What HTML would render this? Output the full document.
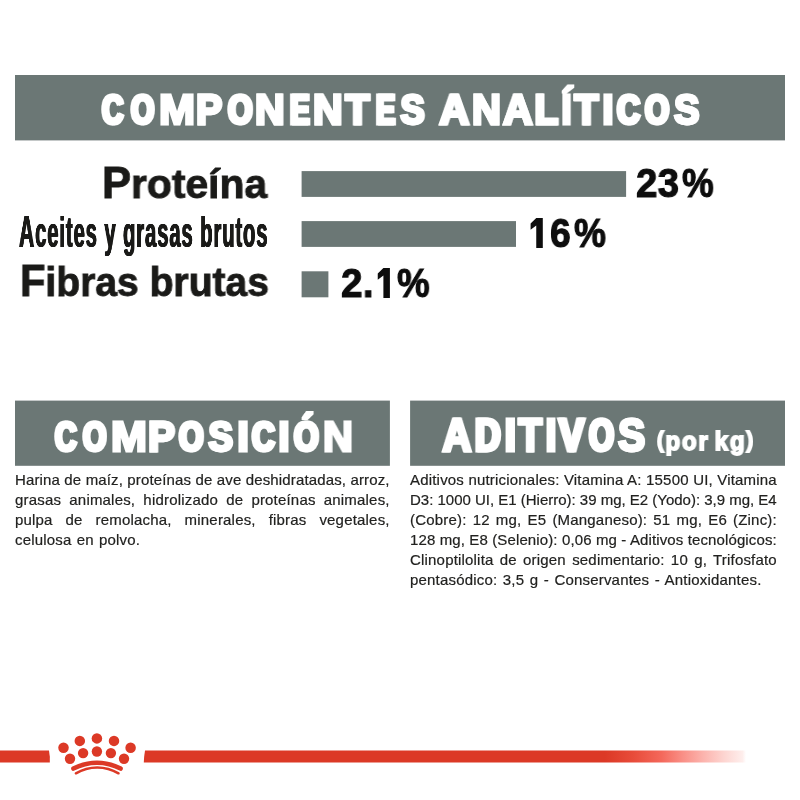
<!DOCTYPE html>
<html lang="es">
<head>
<meta charset="utf-8">
<title>Componentes analíticos</title>
<style>
  html, body { margin: 0; padding: 0; }
  body {
    width: 800px; height: 800px; background: #ffffff; position: relative; overflow: hidden;
    font-family: "Liberation Sans", sans-serif; color: #1d1d1b;
  }
  .abs { position: absolute; }
  .bar { position: absolute; background: #6b7775; }
  .hd {
    position: absolute; white-space: nowrap; color: #ffffff; font-weight: bold;
    font-size: 42.8px; line-height: 42.8px; transform-origin: 0 0; will-change: transform;
    -webkit-text-stroke: 2.8px #ffffff; letter-spacing: 1.8px; paint-order: stroke fill;
  }
  .lbl {
    position: absolute; white-space: nowrap; color: #1a1a18; font-weight: bold;
    font-size: 43.3px; line-height: 43.3px; transform-origin: 0 0; will-change: transform;
  }
  .cap { font-size: 45.2px; line-height: 0; }
  .val { font-size: 41px; line-height: 41px; color:#0d0d0d; -webkit-text-stroke: 1.1px #0d0d0d; letter-spacing: 0.5px; }
  .body {
    position: absolute; color: #222220; font-size: 15px; line-height: 20.1px; -webkit-text-stroke: 0.2px #222220;
    will-change: transform;
  }
  .body div { white-space: nowrap; height: 20.1px; }
</style>
</head>
<body>

<!-- header -->
<svg class="abs" style="left:0; top:0;" width="800" height="480" viewBox="0 0 800 480">
  <g fill="#6b7775">
    <rect x="15" y="75" width="770" height="65.4"/>
    <rect x="301.6" y="171.1" width="324.5" height="25.8"/>
    <rect x="301.6" y="221.1" width="214.4" height="25.8"/>
    <rect x="301.6" y="271.3" width="26.8" height="26"/>
    <rect x="15" y="400.6" width="374.9" height="65.2"/>
    <rect x="410.1" y="400.6" width="374.9" height="65.2"/>
  </g>
</svg>

<!-- HDR-START -->
<div class="hd" style="left:101.08px; top:87.8px; transform:scaleX(0.6893);">C</div>
<div class="hd" style="left:103.34px; top:87.8px; transform:scaleX(0.6893);">C</div>
<div class="hd" style="left:129.88px; top:87.8px; transform:scaleX(0.6964);">O</div>
<div class="hd" style="left:132.07px; top:87.8px; transform:scaleX(0.6964);">O</div>
<div class="hd" style="left:158.63px; top:87.8px; transform:scaleX(1.0107);">M</div>
<div class="hd" style="left:195.82px; top:87.8px; transform:scaleX(0.9176);">P</div>
<div class="hd" style="left:196.35px; top:87.8px; transform:scaleX(0.9176);">P</div>
<div class="hd" style="left:226.82px; top:87.8px; transform:scaleX(0.7346);">O</div>
<div class="hd" style="left:228.66px; top:87.8px; transform:scaleX(0.7346);">O</div>
<div class="hd" style="left:255.07px; top:87.8px; transform:scaleX(0.9531);">N</div>
<div class="hd" style="left:255.28px; top:87.8px; transform:scaleX(0.9531);">N</div>
<div class="hd" style="left:288.77px; top:87.8px; transform:scaleX(0.6852);">E</div>
<div class="hd" style="left:291.34px; top:87.8px; transform:scaleX(0.6852);">E</div>
<div class="hd" style="left:313.17px; top:87.8px; transform:scaleX(0.9531);">N</div>
<div class="hd" style="left:313.38px; top:87.8px; transform:scaleX(0.9531);">N</div>
<div class="hd" style="left:345.32px; top:87.8px; transform:scaleX(0.9167);">T</div>
<div class="hd" style="left:345.85px; top:87.8px; transform:scaleX(0.9167);">T</div>
<div class="hd" style="left:374.60px; top:87.8px; transform:scaleX(0.6685);">E</div>
<div class="hd" style="left:377.31px; top:87.8px; transform:scaleX(0.6685);">E</div>
<div class="hd" style="left:400.32px; top:87.8px; transform:scaleX(0.8440);">S</div>
<div class="hd" style="left:401.16px; top:87.8px; transform:scaleX(0.8440);">S</div>
<div class="hd" style="left:439.47px; top:87.8px; transform:scaleX(0.9557);">A</div>
<div class="hd" style="left:439.66px; top:87.8px; transform:scaleX(0.9557);">A</div>
<div class="hd" style="left:471.70px; top:87.8px; transform:scaleX(0.9323);">N</div>
<div class="hd" style="left:472.10px; top:87.8px; transform:scaleX(0.9323);">N</div>
<div class="hd" style="left:502.62px; top:87.8px; transform:scaleX(0.9536);">A</div>
<div class="hd" style="left:502.82px; top:87.8px; transform:scaleX(0.9536);">A</div>
<div class="hd" style="left:534.24px; top:87.8px; transform:scaleX(0.9060);">L</div>
<div class="hd" style="left:534.87px; top:87.8px; transform:scaleX(0.9060);">L</div>
<div class="hd" style="left:561.16px; top:87.8px; transform:scaleX(0.9278);">Í</div>
<div class="hd" style="left:574.21px; top:87.8px; transform:scaleX(0.9115);">T</div>
<div class="hd" style="left:574.79px; top:87.8px; transform:scaleX(0.9115);">T</div>
<div class="hd" style="left:601.63px; top:87.8px; transform:scaleX(0.9778);">I</div>
<div class="hd" style="left:616.41px; top:87.8px; transform:scaleX(0.7438);">C</div>
<div class="hd" style="left:618.17px; top:87.8px; transform:scaleX(0.7438);">C</div>
<div class="hd" style="left:644.02px; top:87.8px; transform:scaleX(0.7219);">O</div>
<div class="hd" style="left:645.98px; top:87.8px; transform:scaleX(0.7219);">O</div>
<div class="hd" style="left:673.85px; top:87.8px; transform:scaleX(0.8951);">S</div>
<div class="hd" style="left:674.21px; top:87.8px; transform:scaleX(0.8951);">S</div>
<div class="hd" style="left:53.58px; top:414.7px; transform:scaleX(0.6961);">C</div>
<div class="hd" style="left:55.77px; top:414.7px; transform:scaleX(0.6961);">C</div>
<div class="hd" style="left:82.02px; top:414.7px; transform:scaleX(0.7006);">O</div>
<div class="hd" style="left:84.18px; top:414.7px; transform:scaleX(0.7006);">O</div>
<div class="hd" style="left:111.29px; top:414.7px; transform:scaleX(1.0076);">M</div>
<div class="hd" style="left:147.98px; top:414.7px; transform:scaleX(0.9451);">P</div>
<div class="hd" style="left:148.27px; top:414.7px; transform:scaleX(0.9451);">P</div>
<div class="hd" style="left:178.42px; top:414.7px; transform:scaleX(0.7346);">O</div>
<div class="hd" style="left:180.26px; top:414.7px; transform:scaleX(0.7346);">O</div>
<div class="hd" style="left:208.33px; top:414.7px; transform:scaleX(0.8542);">S</div>
<div class="hd" style="left:209.07px; top:414.7px; transform:scaleX(0.8542);">S</div>
<div class="hd" style="left:236.67px; top:414.7px; transform:scaleX(1.0222);">I</div>
<div class="hd" style="left:250.82px; top:414.7px; transform:scaleX(0.7324);">C</div>
<div class="hd" style="left:252.68px; top:414.7px; transform:scaleX(0.7324);">C</div>
<div class="hd" style="left:278.40px; top:414.7px; transform:scaleX(1.0000);">I</div>
<div class="hd" style="left:292.82px; top:414.7px; transform:scaleX(0.7389);">Ó</div>
<div class="hd" style="left:294.62px; top:414.7px; transform:scaleX(0.7389);">Ó</div>
<div class="hd" style="left:322.58px; top:414.7px; transform:scaleX(0.9687);">N</div>
<div class="hd" style="left:441.91px; top:413.0px; transform:scaleX(0.8801); font-size:45.4px; line-height:45.4px;">A</div>
<div class="hd" style="left:442.82px; top:413.0px; transform:scaleX(0.8801); font-size:45.4px; line-height:45.4px;">A</div>
<div class="hd" style="left:474.44px; top:413.0px; transform:scaleX(0.7800); font-size:45.4px; line-height:45.4px;">D</div>
<div class="hd" style="left:475.95px; top:413.0px; transform:scaleX(0.7800); font-size:45.4px; line-height:45.4px;">D</div>
<div class="hd" style="left:503.61px; top:413.0px; transform:scaleX(0.9676); font-size:45.4px; line-height:45.4px;">I</div>
<div class="hd" style="left:517.95px; top:413.0px; transform:scaleX(0.8463); font-size:45.4px; line-height:45.4px;">T</div>
<div class="hd" style="left:519.17px; top:413.0px; transform:scaleX(0.8463); font-size:45.4px; line-height:45.4px;">T</div>
<div class="hd" style="left:544.74px; top:413.0px; transform:scaleX(0.9514); font-size:45.4px; line-height:45.4px;">I</div>
<div class="hd" style="left:558.35px; top:413.0px; transform:scaleX(0.8308); font-size:45.4px; line-height:45.4px;">V</div>
<div class="hd" style="left:559.71px; top:413.0px; transform:scaleX(0.8308); font-size:45.4px; line-height:45.4px;">V</div>
<div class="hd" style="left:588.05px; top:413.0px; transform:scaleX(0.7055); font-size:45.4px; line-height:45.4px;">O</div>
<div class="hd" style="left:590.29px; top:413.0px; transform:scaleX(0.7055); font-size:45.4px; line-height:45.4px;">O</div>
<div class="hd" style="left:617.63px; top:413.0px; transform:scaleX(0.9017); font-size:45.4px; line-height:45.4px;">S</div>
<div class="hd" style="left:617.95px; top:413.0px; transform:scaleX(0.9017); font-size:45.4px; line-height:45.4px;">S</div>
<!-- HDR-END -->

<!-- rows -->
<div class="lbl" id="l1" style="left:101.72px; transform:scaleX(0.9912); top:163.8px; font-size:41.2px; line-height:41.2px; -webkit-text-stroke:0.9px #1a1a18;"><span class="cap" style="font-size:43.9px;">P</span>roteína</div>
<div class="lbl val" id="v1a" style="left:636.30px; transform:scaleX(0.9348); top:163.2px;">23</div>
<div class="lbl val" id="v1b" style="left:682.46px; transform:scaleX(0.8704); top:163.2px;">%</div>

<div class="lbl" id="l2" style="left:19.38px; transform:scaleX(0.4655); top:211.2px; letter-spacing:2px; text-shadow: 1.0px 0 0 #1a1a18, -1.0px 0 0 #1a1a18, 0.5px 0 0 #1a1a18, -0.5px 0 0 #1a1a18;"><span class="cap">A</span>ceites y grasas brutos</div>
<div class="lbl val" id="v2b" style="left:549.99px; transform:scaleX(0.9060); top:212.8px;">6</div>
<div class="lbl val" id="v2c" style="left:573.56px; transform:scaleX(0.8761); top:212.8px;">%</div>

<div class="lbl" id="l3" style="left:19.83px; transform:scaleX(0.9480); top:261.8px; font-size:41.2px; line-height:41.2px; -webkit-text-stroke:0.9px #1a1a18;"><span class="cap" style="font-size:43.9px;">F</span>ibras brutas</div>
<div class="lbl val" id="v3a" style="left:340.54px; transform:scaleX(0.9402); top:262.9px;">2.</div>
<div class="lbl val" id="v3b" style="left:397.15px; transform:scaleX(0.8958); top:262.9px;">%</div>

<svg class="abs" style="left:0; top:0;" width="800" height="320" viewBox="0 0 800 320">
  <polygon fill="#0d0d0d" points="542.80,217.90 536.25,217.90 530.60,223.60 530.60,229.80 536.25,225.40 536.25,247.90 542.80,247.90"/>
  <polygon fill="#0d0d0d" points="389.90,267.90 383.40,267.90 377.75,273.60 377.75,279.80 383.40,275.40 383.40,297.90 389.90,297.90"/>
</svg>

<!-- composición -->
<div class="body" id="b1" style="left:15px; top:469.7px; width:374.5px;">
  <div style="letter-spacing:0.144px; word-spacing:0.000px;">Harina de maíz, proteínas de ave deshidratadas, arroz,</div>
  <div style="letter-spacing:0.190px; word-spacing:3.794px;">grasas animales, hidrolizado de proteínas animales,</div>
  <div style="letter-spacing:0.190px; word-spacing:8.576px;">pulpa de remolacha, minerales, fibras vegetales,</div>
  <div style="letter-spacing:0.190px; word-spacing:0.838px;">celulosa en polvo.</div>
</div>

<!-- aditivos -->
<div class="hd" id="t4" style="left:657.01px; transform:scaleX(0.9414); top:427.6px; font-size:25.5px; line-height:25.5px; -webkit-text-stroke: 1.8px #ffffff; letter-spacing: 1.9px; word-spacing: -3.5px;"><span style="font-size:21.5px; vertical-align:2.6px;">(</span>por kg<span style="font-size:21.5px; vertical-align:2.6px;">)</span></div>
<div class="body" id="b2" style="left:410px; top:469.7px; width:366.7px;">
  <div style="letter-spacing:0.190px; word-spacing:0.053px;">Aditivos nutricionales: Vitamina A: 15500 UI, Vitamina</div>
  <div style="letter-spacing:-0.008px; word-spacing:0.000px;">D3: 1000 UI, E1 (Hierro): 39 mg, E2 (Yodo): 3,9 mg, E4</div>
  <div style="letter-spacing:0.190px; word-spacing:1.762px;">(Cobre): 12 mg, E5 (Manganeso): 51 mg, E6 (Zinc):</div>
  <div style="letter-spacing:0.123px; word-spacing:0.000px;">128 mg, E8 (Selenio): 0,06 mg - Aditivos tecnológicos:</div>
  <div style="letter-spacing:0.190px; word-spacing:1.873px;">Clinoptilolita de origen sedimentario: 10 g, Trifosfato</div>
  <div style="letter-spacing:0.190px; word-spacing:1.131px;">pentasódico: 3,5 g - Conservantes - Antioxidantes.</div>
</div>

<!-- footer line + crown -->
<svg class="abs" style="left:0; top:720px;" width="800" height="80" viewBox="0 720 800 80">
  <defs>
    <linearGradient id="fade" gradientUnits="userSpaceOnUse" x1="605" y1="0" x2="746" y2="0">
      <stop offset="0" stop-color="#dc3926"/>
      <stop offset="0.2" stop-color="#e84c3a"/>
      <stop offset="0.4" stop-color="#f4685b"/>
      <stop offset="0.55" stop-color="#f98f86"/>
      <stop offset="0.7" stop-color="#fcb4ae"/>
      <stop offset="0.85" stop-color="#fdd6d2"/>
      <stop offset="0.975" stop-color="#feeeec"/>
      <stop offset="1" stop-color="#ffffff"/>
    </linearGradient>
  </defs>
  <path d="M0 750.4 H49 Q50.2 756.5 49.8 762.5 H0 Z" fill="#dc3926"/>
  <path d="M145 750.4 H747 V762.5 H143.8 Q144 756.5 145 750.4 Z" fill="url(#fade)"/>
  <g fill="#dc3926">
    <circle cx="63.5" cy="747.7" r="5.25"/>
    <circle cx="79.8" cy="740.9" r="5.25"/>
    <circle cx="96.9" cy="738.4" r="5.25"/>
    <circle cx="114" cy="740.9" r="5.25"/>
    <circle cx="130.6" cy="747.7" r="5.25"/>
    <circle cx="70" cy="758.8" r="5.2"/>
    <circle cx="83.1" cy="753.1" r="5.2"/>
    <circle cx="96.9" cy="751.5" r="5.2"/>
    <circle cx="110.9" cy="753.1" r="5.2"/>
    <circle cx="124" cy="758.8" r="5.2"/>
  </g>
  <path d="M73.4 768.6 A50.1 50.1 0 0 1 120.6 768.6" fill="none" stroke="#dc3926" stroke-width="4.5" stroke-linecap="round"/>
  <path d="M75.9 773.3 A41.8 41.8 0 0 1 118.5 773.3" fill="none" stroke="#dc3926" stroke-width="2.5" stroke-linecap="round"/>
</svg>

</body>
</html>
